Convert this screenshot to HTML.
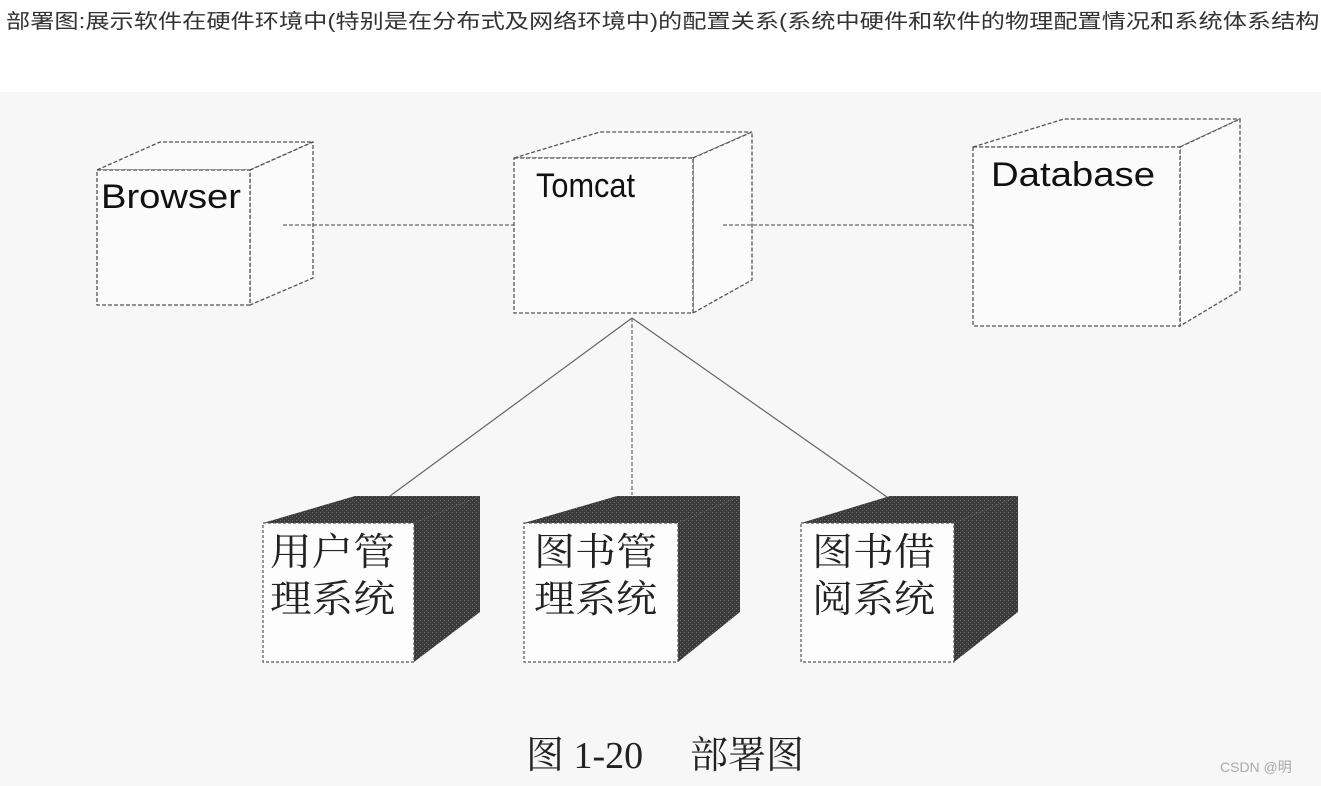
<!DOCTYPE html>
<html><head><meta charset="utf-8"><style>
html,body{margin:0;padding:0;background:#fff;width:1321px;height:786px;overflow:hidden}
.t{position:absolute;left:6px;top:5px;font:20px "Liberation Sans","Noto Sans CJK SC",sans-serif;color:#333;white-space:nowrap;transform:scaleX(1.21);transform-origin:0 0}
</style></head><body>
<div class="t">部署图:展示软件在硬件环境中(特别是在分布式及网络环境中)的配置关系(系统中硬件和软件的物理配置情况和系统体系结构</div>
<svg style="position:absolute;left:0;top:0" width="1321" height="786">
<defs>
<pattern id="dk" width="4" height="4" patternUnits="userSpaceOnUse">
<rect width="4" height="4" fill="#3a3a3a"/><rect x="0" y="0" width="1" height="1" fill="#777"/><rect x="2" y="2" width="1" height="1" fill="#666"/>
</pattern>
</defs>
<rect x="0" y="92" width="1321" height="694" fill="#f7f7f7"/>
<g fill="#fbfbfb" stroke="#555" stroke-width="1.3" stroke-dasharray="4,2">
<polygon points="97,170 160,142 313,142 250,170"/>
<polygon points="250,170 313,142 313,278 250,305"/>
<rect x="97" y="170" width="153" height="135"/>
<polygon points="514,158 600,132 752,132 693,158"/>
<polygon points="693,158 752,132 752,280 693,313"/>
<rect x="514" y="158" width="179" height="155"/>
<polygon points="973,147 1064,119 1240,119 1180,147"/>
<polygon points="1180,147 1240,119 1240,290 1180,326"/>
<rect x="973" y="147" width="207" height="179"/>
</g>
<g stroke="#666" stroke-width="1.2" fill="none">
<line x1="283" y1="225" x2="514" y2="225" stroke-dasharray="4,2"/>
<line x1="723" y1="225" x2="973" y2="225" stroke-dasharray="4,2"/>
<line x1="632" y1="318" x2="632" y2="495" stroke-dasharray="4,2"/>
<line x1="632" y1="318" x2="390" y2="496"/>
<line x1="632" y1="318" x2="887" y2="497"/>
</g>
<g>
<polygon points="263,523 355,496 480,496 414,523" fill="url(#dk)"/>
<polygon points="414,523 480,496 480,612 414,662" fill="url(#dk)"/>
<rect x="263" y="523" width="151" height="139" fill="#fdfdfd" stroke="#555" stroke-width="1.2" stroke-dasharray="3,2"/>
<polygon points="524,523 617,496 740,496 678,523" fill="url(#dk)"/>
<polygon points="678,523 740,496 740,612 678,662" fill="url(#dk)"/>
<rect x="524" y="523" width="154" height="139" fill="#fdfdfd" stroke="#555" stroke-width="1.2" stroke-dasharray="3,2"/>
<polygon points="801,523 890,496 1018,496 954,523" fill="url(#dk)"/>
<polygon points="954,523 1018,496 1018,612 954,662" fill="url(#dk)"/>
<rect x="801" y="523" width="153" height="139" fill="#fdfdfd" stroke="#555" stroke-width="1.2" stroke-dasharray="3,2"/>
</g>
<g font-family="Liberation Sans,sans-serif" font-size="34" fill="#111">
<text x="101" y="208" textLength="140" lengthAdjust="spacingAndGlyphs">Browser</text>
<text x="536" y="197" textLength="99" lengthAdjust="spacingAndGlyphs">Tomcat</text>
<text x="991" y="186" textLength="164" lengthAdjust="spacingAndGlyphs">Database</text>
</g>
<g font-family="'Liberation Serif','Noto Serif CJK SC',serif" font-size="38" fill="#222" lengthAdjust="spacingAndGlyphs">
<text x="270" y="565" textLength="125" lengthAdjust="spacingAndGlyphs">用户管</text><text x="270" y="612" textLength="125" lengthAdjust="spacingAndGlyphs">理系统</text>
<text x="534" y="565" textLength="123" lengthAdjust="spacingAndGlyphs">图书管</text><text x="534" y="612" textLength="123" lengthAdjust="spacingAndGlyphs">理系统</text>
<text x="812" y="565" textLength="123" lengthAdjust="spacingAndGlyphs">图书借</text><text x="812" y="612" textLength="123" lengthAdjust="spacingAndGlyphs">阅系统</text>
<text x="526" y="768" font-size="38">图 1-20</text>
<text x="690" y="768" font-size="38">部署图</text>
</g>
<text x="1220" y="772" font-family="'Liberation Sans','Noto Sans CJK SC',sans-serif" font-size="14" fill="#aaa">CSDN @明</text>
</svg>
</body></html>
